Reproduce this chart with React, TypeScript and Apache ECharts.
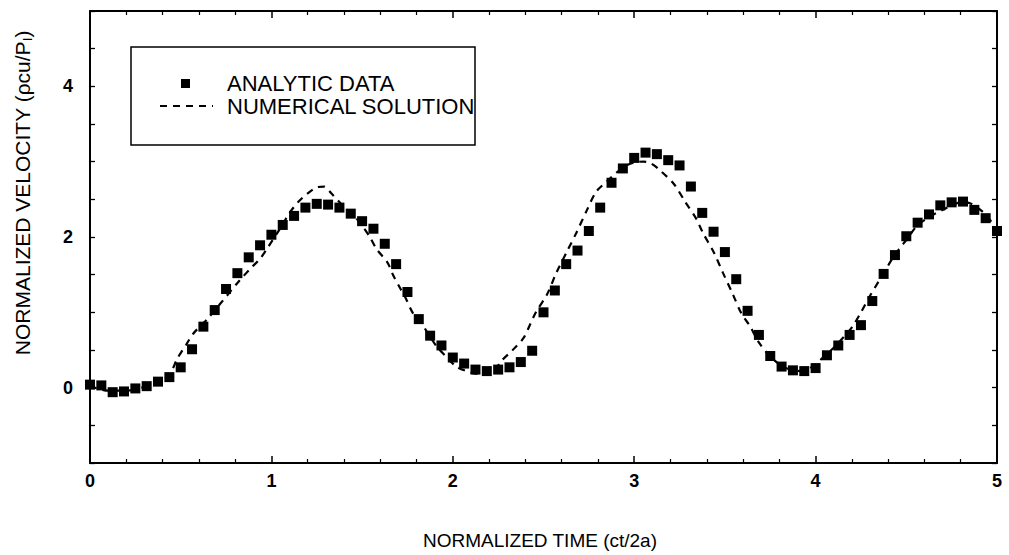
import React, { useEffect, useRef } from "react";
import * as echarts from "echarts";

// Analytic data: normalized time and normalized velocity
const TIME = [
  0, 0.0625, 0.125, 0.1875, 0.25, 0.3125, 0.375, 0.4375, 0.5, 0.5625,
  0.625, 0.6875, 0.75, 0.8125, 0.875, 0.9375, 1, 1.0625, 1.125, 1.1875,
  1.25, 1.3125, 1.375, 1.4375, 1.5, 1.5625, 1.625, 1.6875, 1.75, 1.8125,
  1.875, 1.9375, 2, 2.0625, 2.125, 2.1875, 2.25, 2.3125, 2.375, 2.4375,
  2.5, 2.5625, 2.625, 2.6875, 2.75, 2.8125, 2.875, 2.9375, 3, 3.0625,
  3.125, 3.1875, 3.25, 3.3125, 3.375, 3.4375, 3.5, 3.5625, 3.625, 3.6875,
  3.75, 3.8125, 3.875, 3.9375, 4, 4.0625, 4.125, 4.1875, 4.25, 4.3125,
  4.375, 4.4375, 4.5, 4.5625, 4.625, 4.6875, 4.75, 4.8125, 4.875, 4.9375,
  5,
];
const ANALYTIC = [
  0.04, 0.03, -0.06, -0.05, -0.01, 0.02, 0.08, 0.14, 0.27, 0.51,
  0.81, 1.03, 1.31, 1.52, 1.73, 1.89, 2.03, 2.16, 2.28, 2.39,
  2.44, 2.43, 2.39, 2.31, 2.21, 2.11, 1.91, 1.64, 1.27, 0.91,
  0.69, 0.56, 0.4, 0.32, 0.24, 0.22, 0.24, 0.27, 0.34, 0.49,
  1.0, 1.29, 1.64, 1.82, 2.08, 2.39, 2.72, 2.91, 3.05, 3.12,
  3.1, 3.02, 2.95, 2.67, 2.32, 2.07, 1.8, 1.44, 1.02, 0.7,
  0.42, 0.28, 0.23, 0.22, 0.26, 0.43, 0.56, 0.7, 0.83, 1.15,
  1.51, 1.76, 2.01, 2.19, 2.3, 2.42, 2.46, 2.47, 2.36, 2.25,
  2.08,
];

// Numerical solution (dashed curve) sampled from the figure
const NUM_T = [
  0, 0.1, 0.2, 0.3, 0.38, 0.44, 0.48, 0.53, 0.57, 0.65, 0.72, 0.82, 0.88,
  0.94, 0.98, 1.05, 1.1, 1.15, 1.2, 1.25, 1.29, 1.33, 1.4, 1.46, 1.5, 1.54,
  1.58, 1.64, 1.67, 1.71, 1.74, 1.78, 1.82, 1.91, 1.96, 2.02, 2.1, 2.16,
  2.21, 2.27, 2.33, 2.39, 2.43, 2.46, 2.52, 2.57, 2.63, 2.68, 2.74, 2.79,
  2.85, 2.9, 2.95, 3.0, 3.05, 3.09, 3.14, 3.22, 3.28, 3.34, 3.38, 3.44,
  3.49, 3.54, 3.59, 3.64, 3.69, 3.76, 3.82, 3.88, 3.93, 3.99, 4.04, 4.1,
  4.15, 4.2, 4.25, 4.3, 4.35, 4.42, 4.46, 4.5, 4.56, 4.63, 4.7, 4.78, 4.83,
  4.88, 4.94, 5.0,
];
const NUM_V = [
  0.02, -0.04, -0.04, 0.01, 0.08, 0.18, 0.38, 0.57, 0.72, 0.92, 1.12, 1.41, 1.57,
  1.72, 1.86, 2.12, 2.32, 2.47, 2.58, 2.66, 2.67, 2.58, 2.4, 2.27, 2.15, 2.01,
  1.84, 1.66, 1.5, 1.32, 1.19, 0.99, 0.88, 0.55, 0.42, 0.28, 0.2, 0.18,
  0.19, 0.36, 0.5, 0.66, 0.86, 1.01, 1.24, 1.52, 1.81, 2.05, 2.36, 2.6,
  2.74, 2.85, 2.94, 2.99, 3.0, 2.98, 2.89, 2.7, 2.47, 2.25, 2.05, 1.79,
  1.52, 1.26, 0.99, 0.81, 0.59, 0.39, 0.28, 0.23, 0.22, 0.29, 0.4, 0.53,
  0.66, 0.8, 1.0, 1.22, 1.42, 1.7, 1.84, 1.96, 2.15, 2.27, 2.36, 2.45, 2.46,
  2.41, 2.29, 2.1,
];

const Y_LABELS = [0, 2, 4];
const SERIES_NAMES = ["ANALYTIC DATA", "NUMERICAL SOLUTION"];
const X_TITLE = "NORMALIZED TIME (ct/2a)";
const Y_TITLE = "NORMALIZED VELOCITY (ρcu/P{s|I})";

const FONT = "'Liberation Sans', Arial, Helvetica, sans-serif";

export default function App() {
  const ref = useRef<HTMLDivElement>(null);

  useEffect(() => {
    if (!ref.current) return;
    const chart = echarts.init(ref.current, undefined, { renderer: "svg" });

    const axisLine = { show: true, onZero: false, lineStyle: { color: "#000", width: 2 } };
    const xTick = { show: true, inside: true, length: 7, lineStyle: { color: "#000", width: 1.5 } };
    const xMinor = { show: true, splitNumber: 5, length: 4, lineStyle: { color: "#000", width: 1.2 } };
    const yTick = { show: true, inside: true, length: 5, lineStyle: { color: "#000", width: 1.3 } };

    chart.setOption({
      animation: false,
      backgroundColor: "#fff",
      grid: { left: 90, right: 12, top: 11, bottom: 92, containLabel: false },
      xAxis: [
        {
          type: "value", min: 0, max: 5, interval: 1, position: "bottom",
          axisLine, axisTick: xTick, minorTick: xMinor,
          splitLine: { show: false }, minorSplitLine: { show: false },
          axisLabel: { margin: 9, fontSize: 18, fontWeight: "bold", color: "#000", fontFamily: FONT },
        },
        {
          type: "value", min: 0, max: 5, interval: 1, position: "top",
          axisLine, axisTick: xTick, minorTick: xMinor,
          splitLine: { show: false }, axisLabel: { show: false },
        },
      ],
      yAxis: [
        {
          type: "value", min: -1, max: 5, interval: 0.5, position: "left",
          axisLine, axisTick: yTick, splitLine: { show: false },
          axisLabel: {
            margin: 17, fontSize: 18, fontWeight: "bold", color: "#000", fontFamily: FONT,
            formatter: (v: number) => {
              const r = Math.round(v);
              return Math.abs(v - r) < 1e-6 && Y_LABELS.includes(r) ? String(r) : "";
            },
          },
        },
        {
          type: "value", min: -1, max: 5, interval: 0.5, position: "right",
          axisLine, axisTick: yTick, splitLine: { show: false }, axisLabel: { show: false },
        },
      ],
      series: [
        {
          name: SERIES_NAMES[1],
          type: "line",
          data: NUM_T.map((t, i) => [t, NUM_V[i]]),
          smooth: 0.3,
          showSymbol: false,
          lineStyle: { color: "#000", width: 2.2, type: [7, 6] },
          z: 2,
        },
        {
          name: SERIES_NAMES[0],
          type: "scatter",
          data: TIME.map((t, i) => [t, ANALYTIC[i]]),
          symbol: "rect",
          symbolSize: 10,
          itemStyle: { color: "#000", opacity: 1 },
          z: 3,
        },
      ],
      graphic: [
        {
          type: "rect", shape: { x: 131, y: 47, width: 344, height: 98 },
          style: { fill: "#fff", stroke: "#000", lineWidth: 1.5 }, z: 10,
        },
        {
          type: "rect", shape: { x: 181, y: 79, width: 9, height: 9 },
          style: { fill: "#000" }, z: 11,
        },
        {
          type: "line", shape: { x1: 160, y1: 106, x2: 213, y2: 106 },
          style: { stroke: "#000", lineWidth: 2.2, lineDash: [7, 6] }, z: 11,
        },
        {
          type: "text", x: 227, y: 83, z: 11,
          style: { text: SERIES_NAMES[0], font: `22px ${FONT}`, fill: "#000", textVerticalAlign: "middle" },
        },
        {
          type: "text", x: 227, y: 106, z: 11,
          style: { text: SERIES_NAMES[1], font: `22px ${FONT}`, fill: "#000", textVerticalAlign: "middle" },
        },
        {
          type: "text", x: 540, y: 540, z: 11,
          style: { text: X_TITLE, font: `19px ${FONT}`, fill: "#000", textAlign: "center", textVerticalAlign: "middle" },
        },
        {
          type: "text", x: 22, y: 193, rotation: Math.PI / 2, z: 11,
          style: {
            text: Y_TITLE, fill: "#000", textAlign: "center", textVerticalAlign: "middle",
            fontSize: 21, fontFamily: FONT, lineHeight: 24,
            rich: { s: { fontSize: 13, fontFamily: FONT, verticalAlign: "bottom", lineHeight: 24 } },
          },
        },
      ],
    });

    return () => chart.dispose();
  }, []);

  return (
    <div
      ref={ref}
      style={{ position: "fixed", left: 0, top: 0, width: 1009, height: 555, background: "#fff" }}
    />
  );
}
